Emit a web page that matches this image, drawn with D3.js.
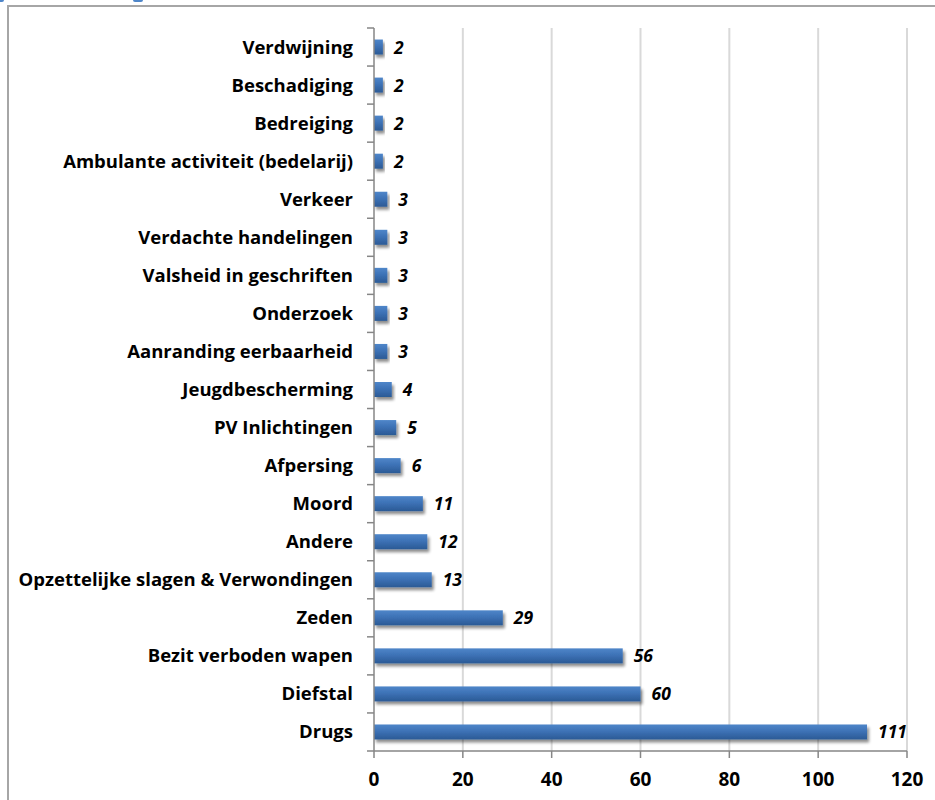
<!DOCTYPE html>
<html><head><meta charset="utf-8">
<script src="https://cdn.jsdelivr.net/npm/d3@7"></script>
<style>body{margin:0;background:#fff;} svg{display:block;}</style>
</head><body>
<script>
const categories = ["Verdwijning","Beschadiging","Bedreiging","Ambulante activiteit (bedelarij)","Verkeer","Verdachte handelingen","Valsheid in geschriften","Onderzoek","Aanranding eerbaarheid","Jeugdbescherming","PV Inlichtingen","Afpersing","Moord","Andere","Opzettelijke slagen & Verwondingen","Zeden","Bezit verboden wapen","Diefstal","Drugs"];
const values = [2,2,2,2,3,3,3,3,3,4,5,6,11,12,13,29,56,60,111];
const xTicks = [0,20,40,60,80,100,120];

const W=935,H=800;
const svg=d3.select("body").append("svg").attr("width",W).attr("height",H);
const defs=svg.append("defs");
const g1=defs.append("linearGradient").attr("id","barg").attr("x1",0).attr("y1",0).attr("x2",0).attr("y2",1);
g1.append("stop").attr("offset","0%").attr("stop-color","#4f86c9");
g1.append("stop").attr("offset","45%").attr("stop-color","#3d72b6");
g1.append("stop").attr("offset","100%").attr("stop-color","#2b5a95");
const f=defs.append("filter").attr("id","sh").attr("x","-10%").attr("y","-50%").attr("width","130%").attr("height","250%");
f.append("feGaussianBlur").attr("in","SourceAlpha").attr("stdDeviation",1.6).attr("result","b");
f.append("feOffset").attr("in","b").attr("dx",1.5).attr("dy",2.5).attr("result","o");
f.append("feComponentTransfer").attr("in","o").attr("result","o2").append("feFuncA").attr("type","linear").attr("slope",0.45);
const m=f.append("feMerge"); m.append("feMergeNode").attr("in","o2"); m.append("feMergeNode").attr("in","SourceGraphic");

// cut-off title remnants at top
svg.append("rect").attr("x",-4).attr("y",-4).attr("width",8).attr("height",6).attr("rx",2).attr("fill","#4f86c9");
svg.append("rect").attr("x",133).attr("y",-4).attr("width",10).attr("height",6).attr("rx",2).attr("fill","#4f86c9");

// chart border
svg.append("rect").attr("x",8).attr("y",6).attr("width",W).attr("height",H).attr("fill","none").attr("stroke","#a6a6a6").attr("stroke-width",2);

const x=d3.scaleLinear().domain([0,120]).range([374,907]);
const y=d3.scaleBand().domain(categories).range([28,751]).paddingInner(0).paddingOuter(0);

// gridlines
svg.append("g").selectAll("line").data(xTicks.filter(d=>d>0)).join("line")
 .attr("x1",d=>x(d)).attr("x2",d=>x(d)).attr("y1",28).attr("y2",751)
 .attr("stroke","#d9d9d9").attr("stroke-width",2);

// bars
const bh=15;
svg.append("g").selectAll("rect").data(values).join("rect")
 .attr("x",x(0)).attr("y",(d,i)=>y(categories[i])+y.bandwidth()/2-bh/2)
 .attr("width",d=>x(d)-x(0)).attr("height",bh)
 .attr("fill","url(#barg)").attr("filter","url(#sh)");

// value labels
svg.append("g").selectAll("text").data(values).join("text")
 .attr("x",d=>x(d)+11).attr("y",(d,i)=>y(categories[i])+y.bandwidth()/2+6.5)
 .attr("font-family","'Open Sans',sans-serif").attr("font-weight","bold").attr("font-style","italic")
 .attr("font-size",17.5).attr("fill","#000").text(d=>d);

// y axis
const ya=svg.append("g").attr("transform",`translate(${x(0)},0)`);
ya.append("line").attr("x1",0).attr("x2",0).attr("y1",28).attr("y2",751).attr("stroke","#868686").attr("stroke-width",1.5);
ya.selectAll("line.t").data(d3.range(categories.length+1)).join("line").attr("class","t")
 .attr("x1",-7).attr("x2",0).attr("y1",i=>28+i*y.step()).attr("y2",i=>28+i*y.step()).attr("stroke","#868686").attr("stroke-width",1.5);
svg.append("g").selectAll("text").data(categories).join("text")
 .attr("x",353).attr("y",d=>y(d)+y.bandwidth()/2+6.5)
 .attr("text-anchor","end").attr("font-family","'Open Sans',sans-serif").attr("font-weight","bold")
 .attr("font-size",18.5).attr("fill","#000").text(d=>d);

// x axis
const xa=svg.append("g").attr("transform","translate(0,751)");
xa.append("line").attr("x1",x(0)).attr("x2",x(120)).attr("stroke","#868686").attr("stroke-width",1.5);
xa.selectAll("line.t").data(xTicks).join("line").attr("class","t")
 .attr("x1",d=>x(d)).attr("x2",d=>x(d)).attr("y1",0).attr("y2",7).attr("stroke","#868686").attr("stroke-width",1.5);
xa.selectAll("text").data(xTicks).join("text")
 .attr("x",d=>x(d)).attr("y",35).attr("text-anchor","middle")
 .attr("font-family","'Open Sans',sans-serif").attr("font-weight","bold").attr("font-size",19).attr("fill","#000").text(d=>d);
</script>
</body></html>
